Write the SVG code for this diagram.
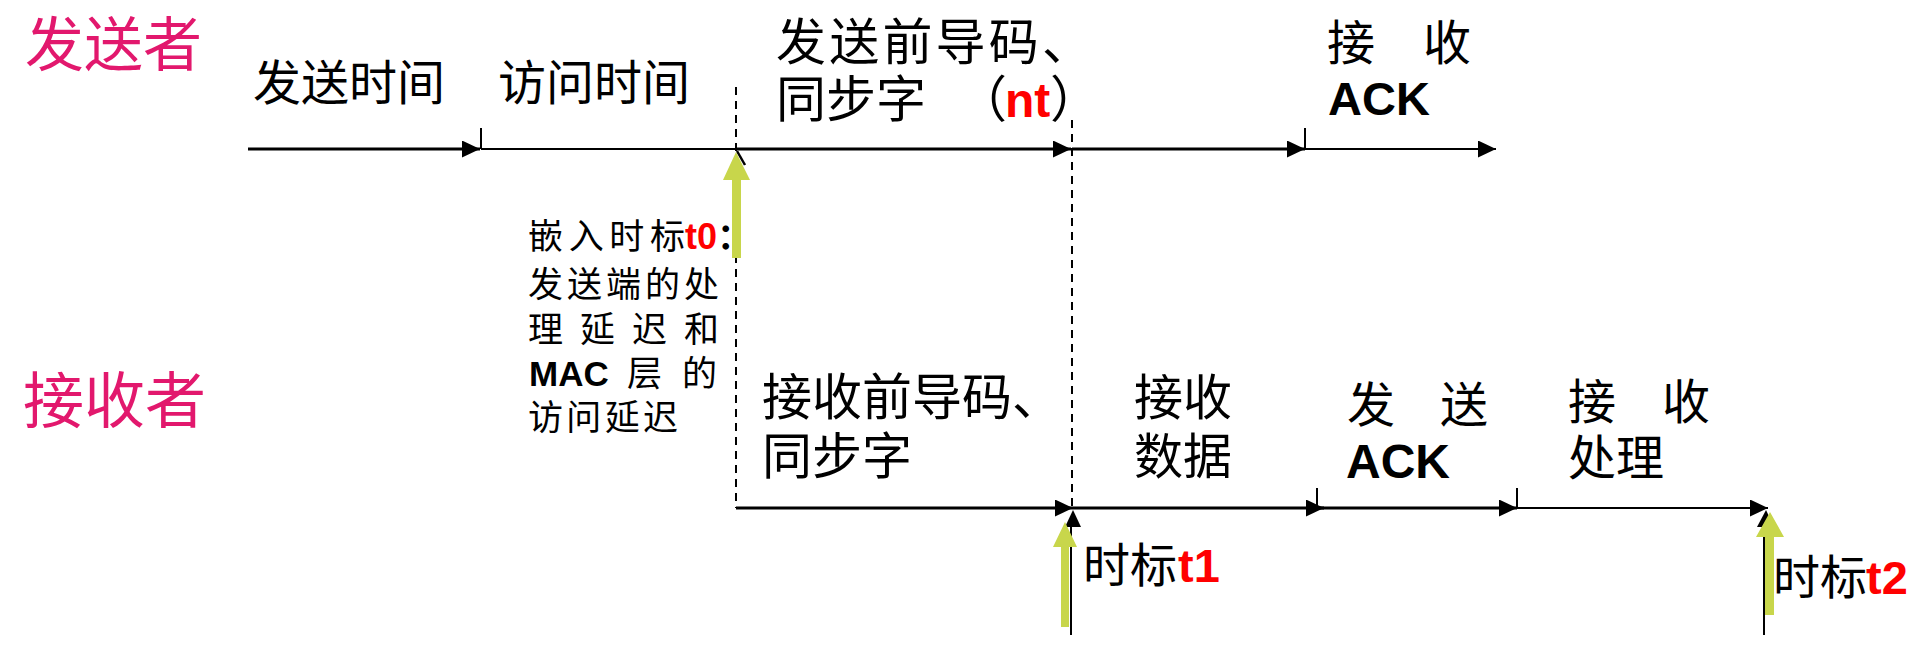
<svg xmlns="http://www.w3.org/2000/svg" width="1930" height="650" viewBox="0 0 1930 650">
<style>
.cjk{font-family:'Noto Sans CJK SC',sans-serif;fill:#000}
.lat{font-family:'Liberation Sans',Arial,sans-serif;font-weight:bold}
.pink{fill:#E2186D}
.red{fill:#F00}
.ax{stroke:#000;fill:none}
.thick{stroke-width:3}
.thin{stroke-width:2}
.dash{stroke:#000;stroke-width:2;stroke-dasharray:8 6;fill:none}
.green{fill:#C8D64B}
</style>
<defs>
<marker id="ah" markerUnits="userSpaceOnUse" markerWidth="18" markerHeight="17" refX="18" refY="8.5" orient="auto">
<path d="M0,0 L18,8.5 L0,17 z" fill="#000"/>
</marker>
</defs>
<rect width="1930" height="650" fill="#fff"/>

<g id="connectors">
<line class="ax thick" x1="248" y1="149" x2="480" y2="149" marker-end="url(#ah)"/>
<line class="ax thin" x1="481" y1="128" x2="481" y2="149"/>
<line class="ax thin" x1="481" y1="149" x2="736" y2="149"/>
<line class="ax thick" x1="736" y1="149" x2="1071" y2="149" marker-end="url(#ah)"/>
<line class="ax thick" x1="1072" y1="149" x2="1305" y2="149" marker-end="url(#ah)"/>
<line class="ax thin" x1="1305" y1="128" x2="1305" y2="149"/>
<line class="ax thin" x1="1305" y1="149" x2="1496" y2="149" marker-end="url(#ah)"/>
<line class="ax" stroke-width="2.5" x1="737" y1="151" x2="745" y2="165"/>

<line class="dash" x1="736" y1="87" x2="736" y2="508"/>
<line class="dash" x1="1072" y1="120" x2="1072" y2="508"/>

<line class="ax thick" x1="736" y1="508" x2="1073" y2="508" marker-end="url(#ah)"/>
<line class="ax thick" x1="1073" y1="508" x2="1324" y2="508" marker-end="url(#ah)"/>
<line class="ax thin" x1="1317" y1="488" x2="1317" y2="508"/>
<line class="ax thick" x1="1317" y1="508" x2="1517" y2="508" marker-end="url(#ah)"/>
<line class="ax thin" x1="1517" y1="488" x2="1517" y2="508"/>
<line class="ax thin" x1="1517" y1="508" x2="1768" y2="508" marker-end="url(#ah)"/>

<line class="ax thin" x1="1071" y1="635" x2="1071" y2="520"/>
<path d="M1073,510 L1081,527 L1065,527 z" fill="#000"/>
<line class="ax thin" x1="1764" y1="635" x2="1764" y2="520"/>
<path d="M1766,510 L1774,527 L1757,527 z" fill="#000"/>

<polygon class="green" points="736,152 750,180 741,180 741,258 732,258 732,180 723,180"/>
<polygon class="green" points="1065,522 1077,547 1069,547 1069,627 1061,627 1061,547 1053,547"/>
<polygon class="green" points="1770,512 1784,537 1774,537 1774,615 1765,615 1765,537 1756,537"/>
</g>

<g id="sender">
<text class="cjk" x="25" y="66" font-size="59" style="fill:#E2186D">发送者</text>
</g>
<g id="receiver">
<text class="cjk" x="23" y="423" font-size="61" style="fill:#E2186D">接收者</text>
</g>

<g id="send-time">
<text class="cjk" x="253" y="100" font-size="48">发送时间</text>
</g>
<g id="access-time">
<text class="cjk" x="498" y="100" font-size="48">访问时间</text>
</g>
<g id="send-preamble">
<text class="cjk" x="776" y="60" font-size="50" textLength="316" lengthAdjust="spacing">发送前导码、</text>
<text class="cjk" y="117" font-size="50"><tspan x="776">同步字 </tspan><tspan x="957">（</tspan><tspan class="lat red" x="1005" font-size="48">nt</tspan><tspan x="1050">）</tspan></text>
</g>
<g id="recv-ack">
<text class="cjk" y="60" font-size="48"><tspan x="1327">接</tspan><tspan x="1423">收</tspan></text>
<text class="lat" x="1328" y="115" font-size="47">ACK</text>
</g>

<g id="t0-note">
<text class="cjk" y="249" font-size="35"><tspan x="528" textLength="157" lengthAdjust="spacing">嵌入时标</tspan><tspan class="lat red" x="685" font-size="36">t0</tspan><tspan x="717" font-weight="bold">：</tspan></text>
<text class="cjk" x="528" y="297" font-size="35" textLength="191" lengthAdjust="spacing">发送端的处</text>
<text class="cjk" x="528" y="342" font-size="35" textLength="191" lengthAdjust="spacing">理延迟和</text>
<text class="cjk" y="386" font-size="35"><tspan class="lat" x="529">MAC</tspan><tspan x="627">层</tspan><tspan x="682">的</tspan></text>
<text class="cjk" x="528" y="430" font-size="35" textLength="150" lengthAdjust="spacing">访问延迟</text>
</g>

<g id="recv-preamble">
<text class="cjk" x="762" y="415" font-size="50">接收前导码、</text>
<text class="cjk" x="762" y="474" font-size="50">同步字</text>
</g>
<g id="recv-data">
<text class="cjk" x="1134" y="415" font-size="49">接收</text>
<text class="cjk" x="1134" y="474" font-size="49">数据</text>
</g>
<g id="send-ack">
<text class="cjk" y="422" font-size="48"><tspan x="1347">发</tspan><tspan x="1440">送</tspan></text>
<text class="lat" x="1346" y="478" font-size="48">ACK</text>
</g>
<g id="recv-proc">
<text class="cjk" y="419" font-size="48"><tspan x="1568">接</tspan><tspan x="1662">收</tspan></text>
<text class="cjk" x="1568" y="475" font-size="48">处理</text>
</g>
<g id="t1">
<text class="cjk" y="582" font-size="47"><tspan x="1083">时标</tspan><tspan class="lat red" x="1178">t1</tspan></text>
</g>
<g id="t2">
<text class="cjk" y="594" font-size="47"><tspan x="1773">时标</tspan><tspan class="lat red" x="1866">t2</tspan></text>
</g>
</svg>
